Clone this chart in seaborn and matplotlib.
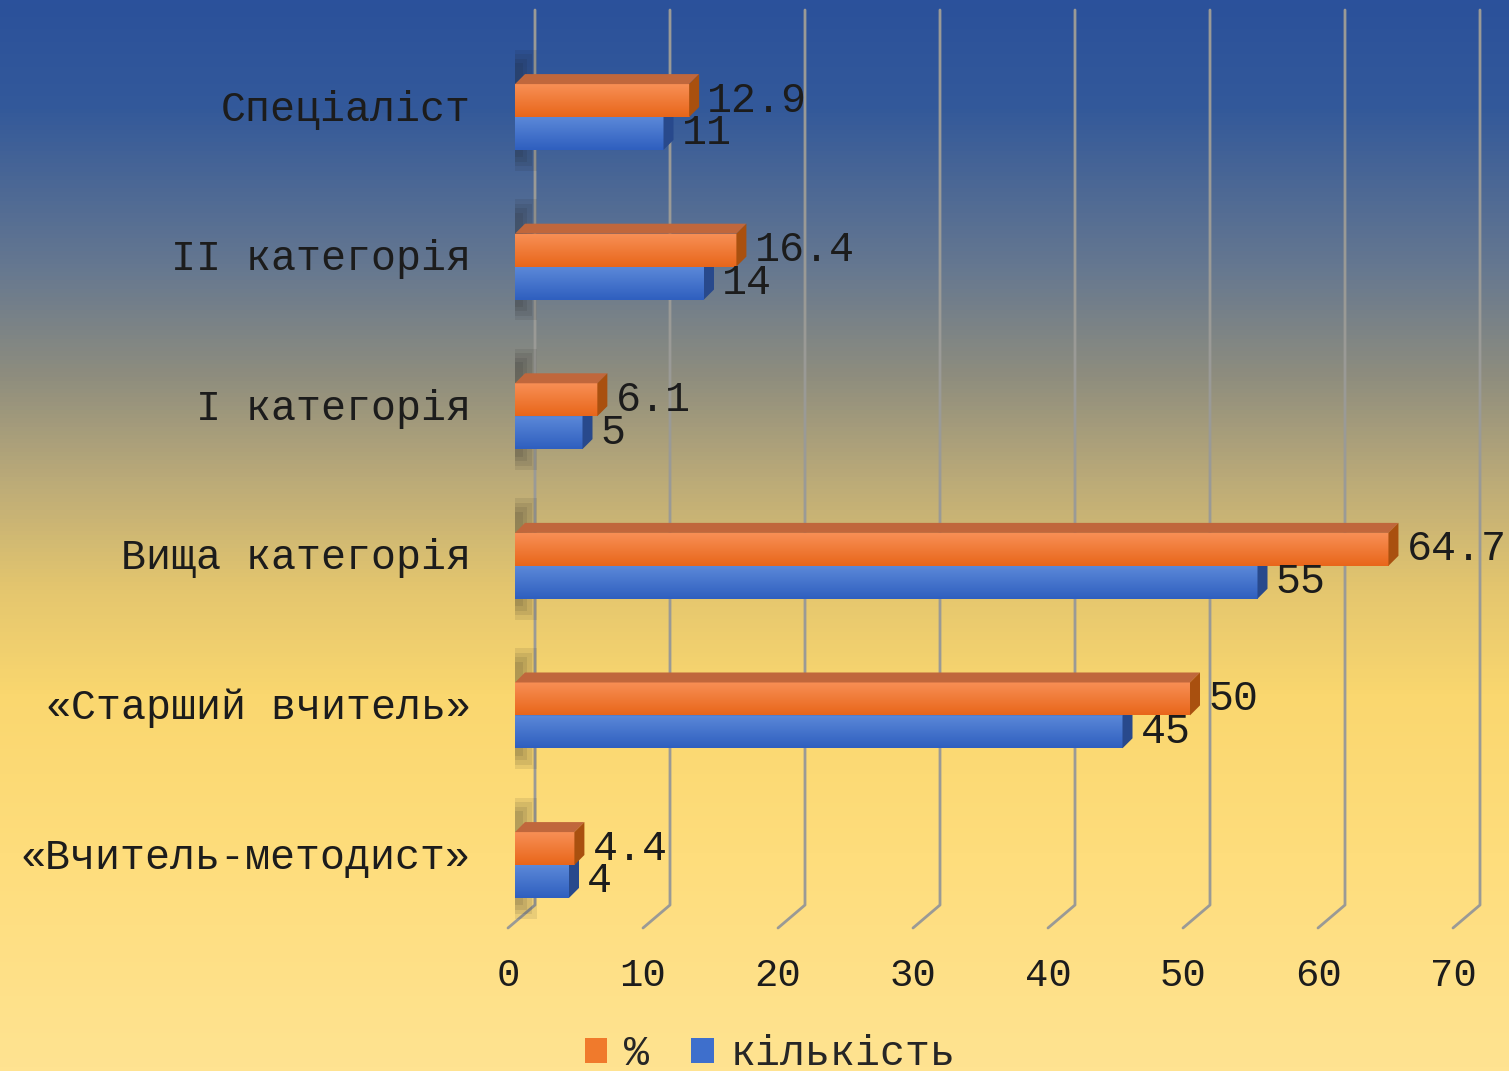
import matplotlib
matplotlib.use("Agg")
import matplotlib.pyplot as plt
import matplotlib.transforms as mtransforms
from matplotlib.colors import LinearSegmentedColormap
from matplotlib.patches import Polygon, Patch
import numpy as np
import pandas as pd
import seaborn as sns

categories = ["Спеціаліст", "II категорія", "I категорія", "Вища категорія",
              "«Старший вчитель»", "«Вчитель-методист»"]
percent = [12.9, 16.4, 6.1, 64.7, 50, 4.4]
count = [11, 14, 5, 55, 45, 4]
series = ["%", "кількість"]
xticks = [0, 10, 20, 30, 40, 50, 60, 70]

df = pd.DataFrame({
    "cat": categories * 2,
    "value": percent + count,
    "series": [series[0]] * len(categories) + [series[1]] * len(categories),
})

sns.set_style("white")
plt.rcParams["font.family"] = ["Liberation Mono", "DejaVu Sans Mono"]

W, H = 1509, 1071
fig = plt.figure(figsize=(W / 100, H / 100), dpi=100)

# background gradient
bg = fig.add_axes([0, 0, 1, 1], zorder=-10)
bg_cmap = LinearSegmentedColormap.from_list("bg", [
    (0.00, "#2b519b"), (0.10, "#33599a"), (0.25, "#667890"), (0.35, "#8e8d7e"),
    (0.45, "#bcab78"), (0.55, "#e4c66e"), (0.65, "#fad76f"), (0.80, "#fedd7c"),
    (1.00, "#ffe391")])
bg.imshow(np.linspace(0, 1, 256).reshape(-1, 1), aspect="auto", cmap=bg_cmap,
          extent=[0, 1, 1, 0])
bg.set_axis_off()

# main axes: x 0..70 maps to px 515..1460, rows 117px + 149.6px * i
px_x = 13.5
px_y = 149.6
top_px, bot_px = 10, 930
ax = fig.add_axes([515 / W, 1 - bot_px / H, 945 / W, (bot_px - top_px) / H])
ax.set_facecolor("none")

orange = "#f07a2c"
blue = "#3e6fcc"
sns.barplot(data=df, y="cat", x="value", hue="series", orient="h",
            palette=[orange, blue], width=0.44, dodge=True, ax=ax,
            saturation=1, legend=False, linewidth=0)

# gridlines with 3D floor
back_dx = 20 / px_x
front_dx = -7 / px_x
y_top = (top_px - 117) / px_y
y_back = (905 - 117) / px_y
y_front = (928 - 117) / px_y
for v in xticks:
    ax.plot([v + back_dx, v + back_dx, v + front_dx], [y_top, y_back, y_front],
            color="#9a9a96", lw=2, zorder=0.5, clip_on=False)

# soft shadow on the wall next to each bar group
for i in range(len(categories)):
    for k, w in enumerate([1.6, 1.25, 0.9, 0.6]):
        ax.fill_between([0, w], i - 0.45 + 0.03 * k, i + 0.36 - 0.03 * k,
                        color="#1a1a1a", alpha=0.09, lw=0, zorder=0.8)

dx = 10 / px_x
dy = 10 / px_y
styles = [
    (["#f88f55", "#e8661a"], "#c0673c", "#a9500f", 3),
    (["#5b88d8", "#2f5fbf"], "#4a6fb5", "#28498c", 2),
]
for cont, (grad, top_c, side_c, z) in zip(ax.containers, styles):
    cmap = LinearSegmentedColormap.from_list("g", grad)
    for p in cont:
        x0, y0 = p.get_x(), p.get_y()
        x1, y1 = x0 + p.get_width(), y0 + p.get_height()
        p.set_zorder(z)
        p.set_edgecolor("none")
        im = ax.imshow(np.linspace(0, 1, 64).reshape(-1, 1), cmap=cmap,
                       aspect="auto", extent=[x0, x1, y1, y0], zorder=z)
        im.set_clip_path(p)
        ax.add_patch(Polygon([(x0, y0), (x0 + dx, y0 - dy), (x1 + dx, y0 - dy), (x1, y0)],
                             closed=True, fc=top_c, ec="none", zorder=z))
        ax.add_patch(Polygon([(x1, y0), (x1 + dx, y0 - dy), (x1 + dx, y1 - dy), (x1, y1)],
                             closed=True, fc=side_c, ec="none", zorder=z))

ax.set_xlim(0, 70)
ax.set_ylim((bot_px - 117) / px_y, (top_px - 117) / px_y)

for cont in ax.containers:
    ax.bar_label(cont, labels=[f"{v:g}" for v in cont.datavalues], padding=13,
                 fontsize=30, color="#1c1c1c", zorder=5)

ax.set_xticks(xticks)
ax.set_xticklabels([str(v) for v in xticks])
ax.tick_params(axis="x", length=0, pad=20, labelsize=28, labelcolor="#1c1c1c")
ax.tick_params(axis="y", length=0, pad=32, labelsize=30, labelcolor="#1c1c1c")
for lab in ax.get_xticklabels():
    lab.set_transform(lab.get_transform() +
                      mtransforms.ScaledTranslation(-7 / 100, 0, fig.dpi_scale_trans))
for lab in ax.get_yticklabels():
    lab.set_transform(lab.get_transform() +
                      mtransforms.ScaledTranslation(0, 12 / 100, fig.dpi_scale_trans))
ax.set_xlabel("")
ax.set_ylabel("")
for s in ax.spines.values():
    s.set_visible(False)

handles = [Patch(fc=orange, ec="none"), Patch(fc=blue, ec="none")]
fig.legend(handles, series, loc="center", bbox_to_anchor=(770 / W, 1 - 1054 / H),
           ncol=2, frameon=False, fontsize=30, handlelength=0.55, handleheight=0.55,
           handletextpad=0.4, columnspacing=1.0)

fig.savefig("out.png", dpi=100)
